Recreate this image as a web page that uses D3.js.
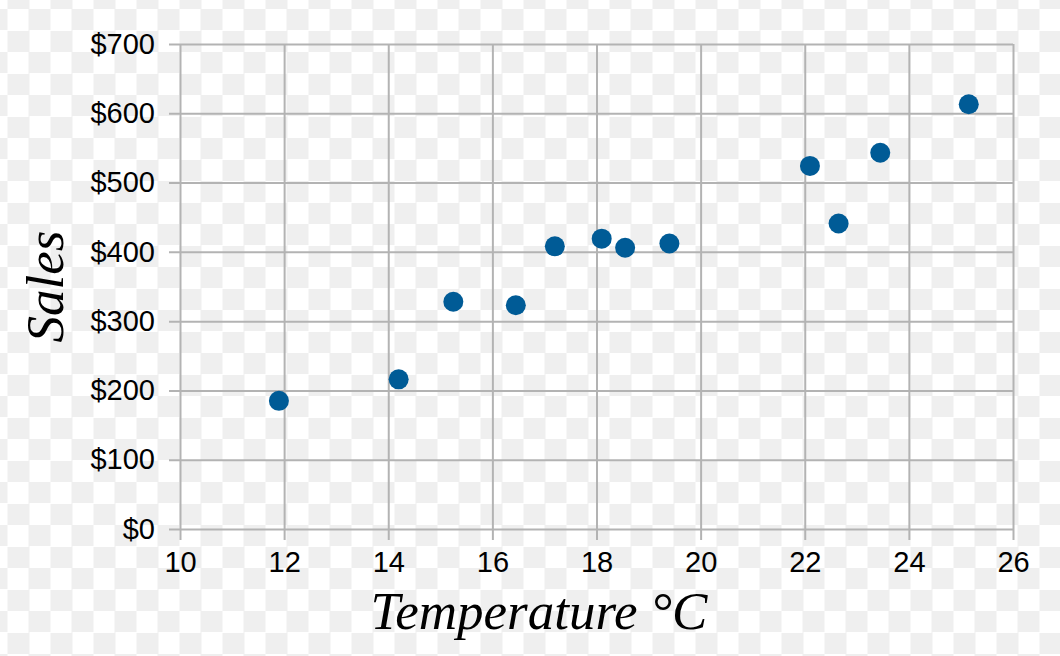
<!DOCTYPE html>
<html>
<head>
<meta charset="utf-8">
<script src="https://cdn.jsdelivr.net/npm/d3@7/dist/d3.min.js"></script>
<style>
  html, body { margin: 0; padding: 0; }
  body {
    width: 1060px; height: 656px; overflow: hidden;
    /* transparent-png checkerboard seen behind the chart */
    background-image: conic-gradient(#efefef 25%, #fff 0 50%, #efefef 0 75%, #fff 0);
    background-size: 43px 43px;
    background-position: 7.5px 9px;
  }
  svg { display: block; }
</style>
</head>
<body>
<svg id="chart" width="1060" height="656"></svg>
<script>
// Data
var temperature = [14.2, 16.45, 11.9, 15.25, 18.55, 22.1, 19.4, 25.15, 23.45, 18.1, 22.65, 17.2];
var sales = [216, 323, 185, 328, 406, 524, 412, 613, 543, 419, 441, 408];
var xTicks = [10, 12, 14, 16, 18, 20, 22, 24, 26];
var yTicks = [0, 100, 200, 300, 400, 500, 600, 700];
var xTitle = "Temperature \u00B0C";
var yTitle = "Sales";

var svg = d3.select("#chart");

// plot box (note: "top" is taken by window.top, so plot* names)
var plotLeft = 180, plotRight = 1013, plotTop = 44, plotBottom = 529;

var x = d3.scaleLinear().domain([10, 26]).range([plotLeft, plotRight]);
var y = d3.scaleLinear().domain([0, 700]).range([plotBottom, plotTop]);

var gridColor = "#b3b3b3";
var tickFont = "'Liberation Sans', Arial, Helvetica, sans-serif";

// y axis - ticks run across the whole plot as grid lines
var yAxis = svg.append("g")
  .attr("transform", "translate(" + plotRight + ",0)")
  .call(d3.axisLeft(y).tickValues(yTicks).tickSizeInner(plotRight - plotLeft + 11).tickSizeOuter(0)
    .tickPadding(14).tickFormat(function(d){ return "$" + d; }));
yAxis.select(".domain").remove();
yAxis.selectAll("line").attr("stroke", gridColor).attr("stroke-width", 2);
yAxis.attr("font-family", tickFont).attr("font-size", 29);
yAxis.selectAll("text").attr("fill", "#000");

// x axis
var xAxis = svg.append("g")
  .attr("transform", "translate(0," + plotTop + ")")
  .call(d3.axisBottom(x).tickValues(xTicks).tickSizeInner(plotBottom - plotTop + 11).tickSizeOuter(0)
    .tickPadding(11));
xAxis.select(".domain").remove();
xAxis.selectAll("line").attr("stroke", gridColor).attr("stroke-width", 2);
xAxis.attr("font-family", tickFont).attr("font-size", 29);
xAxis.selectAll("text").attr("fill", "#000");

// points
svg.append("g").selectAll("circle")
  .data(temperature)
  .enter().append("circle")
  .attr("cx", function(d){ return x(d); })
  .attr("cy", function(d, i){ return y(sales[i]); })
  .attr("r", 10)
  .attr("fill", "#005b96");

// axis titles
svg.append("text")
  .attr("x", 539)
  .attr("y", 629)
  .attr("text-anchor", "middle")
  .attr("font-family", "'Liberation Serif', 'DejaVu Serif', serif")
  .attr("font-style", "italic")
  .attr("font-size", 53)
  .attr("fill", "#000")
  .text(xTitle);

svg.append("text")
  .attr("transform", "translate(63," + ((plotTop + plotBottom) / 2) + ") rotate(-90)")
  .attr("text-anchor", "middle")
  .attr("font-family", "'Liberation Serif', 'DejaVu Serif', serif")
  .attr("font-style", "italic")
  .attr("font-size", 53)
  .attr("fill", "#000")
  .text(yTitle);
</script>
</body>
</html>
